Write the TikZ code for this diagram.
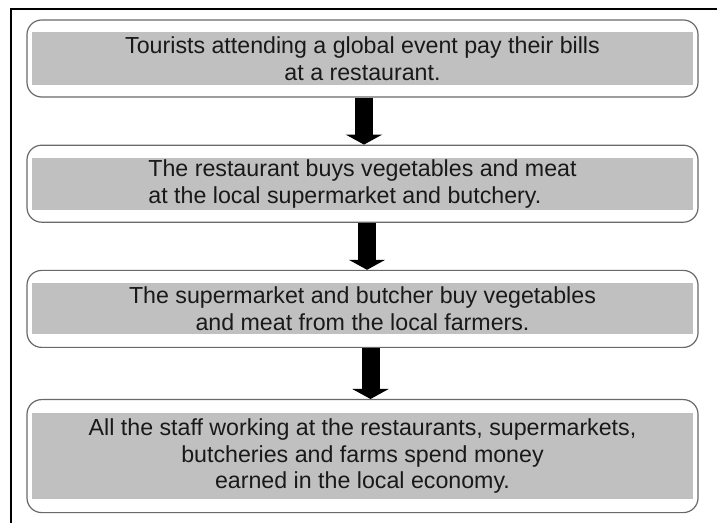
\documentclass[tikz,border=0pt]{standalone}
\usepackage{fontspec}
\setmainfont{Liberation Sans}
\usetikzlibrary{arrows.meta, positioning}
\definecolor{boxgray}{RGB}{192,192,192}
\definecolor{edgegray}{RGB}{105,105,105}
\definecolor{inkgray}{RGB}{25,25,25}

\begin{document}
\begin{tikzpicture}[
  node distance=35.25pt,
  outer/.style={draw=edgegray, line width=0.9pt, rounded corners=11pt, fill=white,
                minimum width=503.25pt, minimum height=57.75pt},
  inner/.style={fill=boxgray, minimum width=495.75pt, minimum height=39pt,
                inner sep=0pt, text=inkgray, align=center,
                font=\fontsize{17.4pt}{20pt}\selectfont},
  flow/.style={-{Triangle[width=27pt, length=7.5pt]}, line width=13.5pt, black}
]
\useasboundingbox (0,0) rectangle (537.75pt,-392.25pt);
\draw[line width=1.5pt] (8.25pt,-393pt) |- (538.5pt,-6.75pt);

\node[outer] (step1) at (271.875pt,-43.875pt) {};
\node[outer, below=of step1] (step2) {};
\node[outer, below=of step2] (step3) {};
\node[outer, below=38.25pt of step3, minimum height=84.75pt] (step4) {};

\node[inner, minimum height=39.75pt] (txt1) at (step1.center)
  {Tourists attending a global event pay their bills\\at a restaurant.};
\node[inner, align=left] (txt2) at (step2.center)
  {The restaurant buys vegetables and meat\\at the local supermarket and butchery.};
\node[inner, minimum height=38.25pt] (txt3) at (step3.center)
  {The supermarket and butcher buy vegetables\\and meat from the local farmers.};
\node[inner, minimum height=64.5pt] (txt4) at (step4.center)
  {All the staff working at the restaurants, supermarkets,\\butcheries and farms spend money\\earned in the local economy.};

\draw[flow] ([xshift=1.1pt]step1.south) -- ([xshift=1.1pt]step2.north);
\draw[flow] ([xshift=3.4pt]step2.south) -- ([xshift=3.4pt]step3.north);
\draw[flow] ([xshift=6pt]step3.south) -- ([xshift=6pt]step4.north);
\end{tikzpicture}
\end{document}
